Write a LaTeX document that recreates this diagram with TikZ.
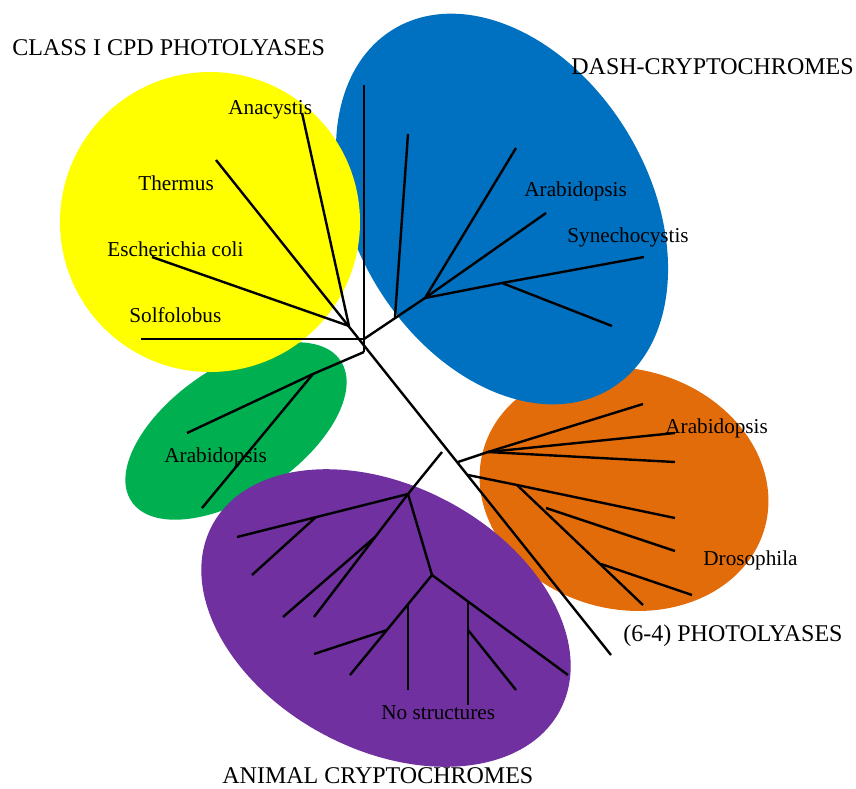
\documentclass[tikz,border=0pt]{standalone}
\usepackage{fontspec}
\setmainfont{Liberation Serif}
\usepackage{tikz}
\definecolor{cpdyellow}{RGB}{255,255,0}
\definecolor{dashblue}{RGB}{0,112,192}
\definecolor{plantgreen}{RGB}{0,176,80}
\definecolor{sixorange}{RGB}{227,108,10}
\definecolor{animalpurple}{RGB}{112,48,160}

\begin{document}
\begin{tikzpicture}[x=0.5pt, y=-0.5pt]
    \tikzstyle{clade} = [font=\fontsize{12}{14}\selectfont, inner sep=0pt, anchor=base west]
    \tikzstyle{taxon} = [font=\fontsize{10.6}{13}\selectfont, inner sep=0pt, anchor=base west]
    \tikzstyle{branch} = [draw, line width=1.2pt]

    \useasboundingbox (0,0) rectangle (856,788);

    \fill [sixorange, rotate around={-15:(624,489)}] (624,489) ellipse [x radius=146, y radius=120];
    \fill [dashblue, rotate around={-59:(502,209)}] (502,209) ellipse [x radius=210, y radius=147];
    \fill [plantgreen, rotate around={34:(236,431)}] (236,431) ellipse [x radius=126, y radius=65];
    \fill [cpdyellow] (210,222) circle [radius=150];
    \fill [animalpurple, rotate around={-28:(386,618)}] (386,618) ellipse [x radius=197, y radius=132];

    \node [clade] (cpdname) at (12,55) {CLASS I CPD PHOTOLYASES};
    \node [clade] (dashname) at (571,74) {DASH-CRYPTOCHROMES};
    \node [clade] (sixname) at (623,641) {(6-4) PHOTOLYASES};
    \node [clade] (animalname) at (222,783) {ANIMAL CRYPTOCHROMES};
    \node [taxon] (anacname) at (228,114) {Anacystis};
    \node [taxon] (thermname) at (138,190) {Thermus};
    \node [taxon] (ecoliname) at (107,256) {Escherichia coli};
    \node [taxon] (solfname) at (129,322) {Solfolobus};
    \node [taxon] (dasharab) at (524,196) {Arabidopsis};
    \node [taxon] (synname) at (567,242) {Synechocystis};
    \node [taxon] (plantarab) at (164,462) {Arabidopsis};
    \node [taxon] (sixarab) at (665,433) {Arabidopsis};
    \node [taxon] (drosname) at (703,565) {Drosophila};
    \node [taxon] (nostruct) at (381,719) {No structures};

    \coordinate (top) at (364,85);
    \coordinate (root) at (364,339);
    \coordinate (low) at (364,352);
    \coordinate (solf) at (141,339);
    \coordinate (cpd) at (349,326);
    \coordinate (anac) at (302,113);
    \coordinate (ecoli) at (152,257);
    \coordinate (therm) at (216,160);
    \coordinate (six4) at (611,655);

    \coordinate (d1) at (395,317);
    \coordinate (d2) at (425,298);
    \coordinate (d3) at (502,283);
    \coordinate (dlf1) at (408,134);
    \coordinate (dlf2) at (516,148);
    \coordinate (dlf3) at (546,213);
    \coordinate (dlf4) at (644,257);
    \coordinate (dlf5) at (612,326);

    \coordinate (g1) at (313,374);
    \coordinate (glf1) at (187,433);
    \coordinate (glf2) at (202,508);

    \coordinate (o0) at (458,462);
    \coordinate (o1) at (488,452);
    \coordinate (olf1) at (643,404);
    \coordinate (olf2) at (675,433);
    \coordinate (olf3) at (675,462);
    \coordinate (o2) at (468,475);
    \coordinate (o3) at (517,485);
    \coordinate (olf4) at (675,518);
    \coordinate (olf5) at (643,605);
    \coordinate (o4) at (601,564);
    \coordinate (olf6) at (692,595);
    \coordinate (o5) at (546,508);
    \coordinate (olf7) at (675,551);

    \coordinate (p0) at (442,452);
    \coordinate (pj) at (408,494);
    \coordinate (p1) at (316,517);
    \coordinate (plf1) at (237,537);
    \coordinate (plf2) at (252,575);
    \coordinate (p2) at (375,537);
    \coordinate (plf3) at (314,617);
    \coordinate (plf4) at (283,617);
    \coordinate (pk) at (432,575);
    \coordinate (p3) at (468,602);
    \coordinate (plf5) at (568,675);
    \coordinate (plf6) at (468,705);
    \coordinate (p3b) at (468,630);
    \coordinate (plf7) at (516,690);
    \coordinate (p4) at (408,604);
    \coordinate (p5) at (387,630);
    \coordinate (plf8) at (350,675);
    \coordinate (plf9) at (408,690);
    \coordinate (plf10) at (314,654);

    \path [branch] (top) -- (low);
    \path [branch] (solf) -- (root);
    \path [branch] (therm) -- (six4);
    \path [branch] (anac) -- (cpd);
    \path [branch] (ecoli) -- (cpd);

    \path [branch] (root) -- (d2);
    \path [branch] (d1) -- (dlf1);
    \path [branch] (d2) -- (dlf2);
    \path [branch] (d2) -- (dlf3);
    \path [branch] (d2) -- (d3) -- (dlf4);
    \path [branch] (d3) -- (dlf5);

    \path [branch] (low) -- (g1) -- (glf1);
    \path [branch] (g1) -- (glf2);

    \path [branch] (o0) -- (o1) -- (olf1);
    \path [branch] (o1) -- (olf2);
    \path [branch] (o1) -- (olf3);
    \path [branch] (o2) -- (o3) -- (olf4);
    \path [branch] (o3) -- (olf5);
    \path [branch] (o4) -- (olf6);
    \path [branch] (o5) -- (olf7);

    \path [branch] (p0) -- (pj) -- (plf1);
    \path [branch] (p1) -- (plf2);
    \path [branch] (pj) -- (plf3);
    \path [branch] (p2) -- (plf4);
    \path [branch] (pj) -- (pk) -- (plf5);
    \path [branch] (p3) -- (plf6);
    \path [branch] (p3b) -- (plf7);
    \path [branch] (pk) -- (plf8);
    \path [branch] (p4) -- (plf9);
    \path [branch] (p5) -- (plf10);
\end{tikzpicture}
\end{document}
